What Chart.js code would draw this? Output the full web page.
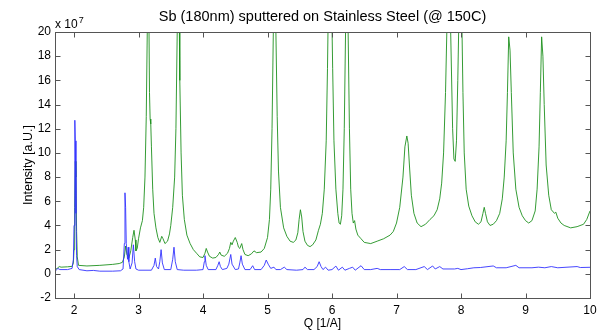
<!DOCTYPE html>
<html>
<head>
<meta charset="utf-8">
<script src="https://cdn.jsdelivr.net/npm/chart.js@4/dist/chart.umd.min.js"></script>
<style>
  body { margin: 0; background: #fff; }
  #wrap { width: 611px; height: 333px; }
</style>
</head>
<body>
<div id="wrap"><canvas id="xrd" width="611" height="333"></canvas></div>
<script>
// Sb film on stainless steel, intensity in units of 1e7
const greenQ = [1.705, 1.74, 1.77, 1.8, 1.9, 1.97, 1.99, 2.0, 2.01, 2.02, 2.03, 2.04, 2.05, 2.07, 2.2, 2.4, 2.6, 2.7, 2.75, 2.78,
  2.8, 2.82, 2.85, 2.88, 2.91, 2.93, 2.95, 2.96, 2.98, 3.0, 3.03, 3.06, 3.08, 3.1, 3.12, 3.14, 3.15, 3.16, 3.17, 3.18,
  3.19, 3.2, 3.22, 3.24, 3.27, 3.3, 3.33, 3.36, 3.38, 3.41, 3.45, 3.48, 3.5, 3.53, 3.56, 3.58, 3.6, 3.61, 3.63, 3.64,
  3.66, 3.68, 3.71, 3.75, 3.8, 3.85, 3.9, 3.95, 4.0, 4.03, 4.05, 4.07, 4.1, 4.15, 4.2, 4.24, 4.26, 4.28, 4.33, 4.38,
  4.41, 4.43, 4.45, 4.47, 4.5, 4.53, 4.55, 4.57, 4.6, 4.62, 4.65, 4.7, 4.75, 4.79, 4.83, 4.9, 4.95, 5.0, 5.03, 5.05,
  5.07, 5.09, 5.11, 5.13, 5.15, 5.17, 5.2, 5.25, 5.3, 5.35, 5.4, 5.44, 5.47, 5.49, 5.51, 5.53, 5.55, 5.58, 5.62, 5.66,
  5.7, 5.75, 5.79, 5.82, 5.85, 5.88, 5.91, 5.93, 5.95, 5.97, 5.99, 6.01, 6.03, 6.06, 6.09, 6.11, 6.13, 6.15, 6.17, 6.19,
  6.21, 6.23, 6.25, 6.27, 6.29, 6.31, 6.33, 6.35, 6.37, 6.4, 6.45, 6.5, 6.6, 6.7, 6.8, 6.9, 6.95, 7.0, 7.05, 7.1,
  7.13, 7.16, 7.18, 7.2, 7.23, 7.27, 7.32, 7.38, 7.45, 7.52, 7.58, 7.63, 7.67, 7.7, 7.73, 7.76, 7.78, 7.81, 7.84, 7.87,
  7.89, 7.91, 7.93, 7.95, 7.97, 7.99, 8.01, 8.03, 8.05, 8.08, 8.12, 8.17, 8.22, 8.27, 8.31, 8.34, 8.36, 8.38, 8.41, 8.45,
  8.5, 8.55, 8.6, 8.64, 8.67, 8.7, 8.72, 8.74, 8.76, 8.78, 8.81, 8.85, 8.9, 8.95, 9.0, 9.05, 9.1, 9.15, 9.18, 9.21,
  9.23, 9.25, 9.27, 9.29, 9.32, 9.36, 9.4, 9.45, 9.47, 9.5, 9.55, 9.6, 9.7, 9.8, 9.9, 9.95, 10.0];
const greenI = [0.35, 0.45, 0.6, 0.55, 0.58, 0.62, 0.9, 2.0, 5.5, 9.3, 8.0, 3.5, 1.4, 0.7, 0.65, 0.7, 0.78, 0.85, 0.95, 1.4,
  2.3, 1.6, 1.3, 1.9, 3.0, 3.6, 2.8, 1.9, 2.1, 2.9, 3.8, 4.4, 5.5, 8, 13, 22, 28, 22, 15, 12.8,
  12.4, 10.5, 7, 5, 3.8, 3.0, 2.6, 3.1, 2.9, 2.5, 2.7, 3.3, 4.0, 5.5, 8, 12, 20, 28, 22, 16,
  10, 6.5, 4.5, 3.2, 2.5, 2.0, 1.7, 1.4, 1.35, 1.7, 2.1, 1.8, 1.45, 1.3, 1.35, 1.6, 1.8, 1.55, 1.45, 1.7,
  2.1, 2.6, 2.4, 2.7, 3.0, 2.6, 2.2, 2.1, 2.5, 2.0, 1.6, 1.5, 1.65, 1.9, 1.75, 1.8, 2.1, 3.0, 4.5, 7,
  12, 20, 26, 20, 13, 8.5, 5.5, 3.8, 3.1, 2.7, 2.6, 2.8, 3.4, 4.5, 5.3, 4.7, 3.5, 2.7, 2.35, 2.25,
  2.4, 2.8, 3.6, 4.1, 5.0, 7, 11, 17, 25, 30, 24, 17, 11, 7, 5, 4.2, 4.1, 4.8, 7, 12,
  20, 28, 20, 12, 7, 5, 4.2, 4.4, 3.7, 3.2, 2.9, 2.6, 2.5, 2.7, 2.9, 3.2, 3.5, 4.2, 5.5, 8,
  10.5, 11.4, 10.8, 9, 6.5, 5, 4.2, 3.9, 4.1, 4.5, 4.8, 5.3, 6.2, 7.5, 10, 15, 20, 26, 20, 12,
  9.5, 9.3, 11, 16, 22, 28, 22, 15, 10, 7, 5.6, 4.8, 4.3, 4.1, 4.3, 5.0, 5.5, 5.0, 4.3, 4.0,
  4.1, 4.4, 5.0, 6.2, 8, 11, 15, 19.6, 18.5, 15, 10, 7, 5.5, 4.8, 4.4, 4.2, 4.4, 5.2, 7, 10.5,
  15, 19.6, 18, 14, 9, 6.5, 5.3, 5.0, 5.1, 4.6, 4.2, 4.0, 3.8, 3.9, 4.1, 4.5, 5.2];

const blueQ = [1.705, 1.73, 1.75, 1.78, 1.9, 1.97, 1.99, 2.0, 2.01, 2.015, 2.02, 2.03, 2.04, 2.05, 2.08, 2.2, 2.3, 2.4, 2.6, 2.72,
  2.76, 2.78, 2.79, 2.8, 2.81, 2.83, 2.84, 2.85, 2.87, 2.9, 2.92, 2.94, 2.96, 3.0, 3.2, 3.24, 3.26, 3.28, 3.31, 3.33,
  3.35, 3.37, 3.4, 3.5, 3.53, 3.55, 3.57, 3.6, 3.7, 3.9, 4.0, 4.02, 4.03, 4.05, 4.08, 4.2, 4.23, 4.25, 4.27, 4.3,
  4.37, 4.4, 4.43, 4.45, 4.5, 4.55, 4.57, 4.59, 4.61, 4.65, 4.73, 4.77, 4.8, 4.9, 4.95, 4.98, 5.01, 5.05, 5.1, 5.13,
  5.2, 5.26, 5.3, 5.45, 5.55, 5.58, 5.62, 5.72, 5.77, 5.8, 5.83, 5.86, 5.9, 5.94, 6.0, 6.06, 6.1, 6.16, 6.2, 6.27,
  6.32, 6.36, 6.45, 6.5, 6.6, 6.7, 6.75, 6.9, 7.05, 7.12, 7.17, 7.3, 7.43, 7.48, 7.56, 7.6, 7.67, 7.72, 7.9, 7.95,
  8.0, 8.1, 8.2, 8.3, 8.5, 8.55, 8.7, 8.85, 8.9, 9.1, 9.2, 9.3, 9.4, 9.5, 9.8, 9.85, 10.0];
const blueI = [0.2, 0.35, 0.45, 0.35, 0.35, 0.45, 1.2, 4, 10.4, 12.7, 11, 5, 1.5, 0.6, 0.35, 0.25, 0.28, 0.22, 0.22, 0.25,
  0.4, 2.5, 6.7, 5.5, 2.5, 1.2, 2.2, 1.0, 0.4, 0.9, 2.4, 1.0, 0.4, 0.3, 0.3, 0.7, 1.3, 0.6, 0.4, 1.0,
  2.0, 0.9, 0.35, 0.35, 1.2, 2.2, 1.0, 0.35, 0.3, 0.3, 0.35, 1.0, 1.5, 0.7, 0.35, 0.35, 0.7, 1.0, 0.6, 0.35,
  0.45, 0.8, 1.6, 0.8, 0.35, 0.4, 0.9, 1.5, 0.8, 0.35, 0.35, 0.67, 0.35, 0.35, 0.7, 1.14, 0.8, 0.45, 0.55, 0.35,
  0.35, 0.55, 0.35, 0.3, 0.35, 0.55, 0.35, 0.35, 0.6, 1.0, 0.6, 0.35, 0.55, 0.3, 0.35, 0.64, 0.3, 0.55, 0.3, 0.45,
  0.55, 0.3, 0.67, 0.35, 0.35, 0.45, 0.35, 0.35, 0.35, 0.6, 0.35, 0.35, 0.6, 0.35, 0.65, 0.4, 0.6, 0.4, 0.4, 0.45,
  0.35, 0.42, 0.5, 0.52, 0.65, 0.5, 0.5, 0.7, 0.5, 0.5, 0.55, 0.5, 0.6, 0.5, 0.6, 0.52, 0.54];

const xTicks = [2, 3, 4, 5, 6, 7, 8, 9, 10];
const yTicks = [-2, 0, 2, 4, 6, 8, 10, 12, 14, 16, 18, 20];

const FONT = 'Liberation Sans, Arial, Helvetica, sans-serif';
const AXIS = '#555';

function pts(qs, is) {
  return qs.map((q, i) => ({ x: q, y: is[i] }));
}

// matlab-like frame: box, inward ticks on all four sides, titles, exponent
const frame = {
  id: 'frame',
  afterDraw(chart) {
    const { ctx, chartArea: a, scales } = chart;
    const L = Math.round(a.left) + 0.5, R = Math.round(a.right) + 0.5;
    const T = Math.round(a.top) + 0.5, B = Math.round(a.bottom) + 0.5;
    ctx.save();
    ctx.strokeStyle = AXIS;
    ctx.lineWidth = 1;
    ctx.strokeRect(L, T, R - L, B - T);
    ctx.beginPath();
    xTicks.forEach(v => {
      const px = Math.round(scales.x.getPixelForValue(v)) + 0.5;
      ctx.moveTo(px, B); ctx.lineTo(px, B - 5);
      ctx.moveTo(px, T); ctx.lineTo(px, T + 5);
    });
    yTicks.forEach(v => {
      const py = Math.round(scales.y.getPixelForValue(v)) + 0.5;
      ctx.moveTo(L, py); ctx.lineTo(L + 5, py);
      ctx.moveTo(R, py); ctx.lineTo(R - 5, py);
    });
    ctx.stroke();

    ctx.fillStyle = '#000';
    ctx.textAlign = 'center';
    ctx.textBaseline = 'middle';
    ctx.font = '14.5px ' + FONT;
    ctx.fillText('Sb (180nm) sputtered on Stainless Steel (@ 150C)', (a.left + a.right) / 2, 17);
    ctx.font = '12px ' + FONT;
    ctx.fillText('Q [1/A]', (a.left + a.right) / 2, 324);

    ctx.save();
    ctx.translate(29, (a.top + a.bottom) / 2);
    ctx.rotate(-Math.PI / 2);
    ctx.font = '12.5px ' + FONT;
    ctx.fillText('Intensity [a.U.]', 0, 0);
    ctx.restore();

    ctx.textAlign = 'left';
    ctx.textBaseline = 'alphabetic';
    ctx.font = '12px ' + FONT;
    ctx.fillText('x 10', a.left, 28);
    const w = ctx.measureText('x 10').width;
    ctx.font = '9px ' + FONT;
    ctx.fillText('7', a.left + w + 1, 23);
    ctx.restore();
  }
};

new Chart(document.getElementById('xrd'), {
  type: 'line',
  data: {
    datasets: [
      { data: pts(blueQ, blueI), borderColor: 'rgb(50,50,255)', borderWidth: 0.9, pointRadius: 0, tension: 0 },
      { data: pts(greenQ, greenI), borderColor: 'rgb(30,145,30)', borderWidth: 0.9, pointRadius: 0, tension: 0 }
    ]
  },
  options: {
    responsive: false,
    animation: false,
    layout: { padding: { top: 32, right: 21, left: 0, bottom: 0 } },
    plugins: { legend: { display: false }, tooltip: { enabled: false } },
    scales: {
      x: {
        type: 'linear',
        min: 1.705,
        max: 10,
        afterFit(s) { s.height = 35; },
        afterBuildTicks(s) { s.ticks = xTicks.map(v => ({ value: v })); },
        grid: { display: false, drawTicks: false },
        border: { display: false },
        ticks: { padding: 5, color: '#000', font: { family: FONT, size: 12 }, maxRotation: 0 }
      },
      y: {
        min: -2,
        max: 20,
        afterFit(s) { s.width = 55; },
        afterBuildTicks(s) { s.ticks = yTicks.map(v => ({ value: v })); },
        grid: { display: false, drawTicks: false },
        border: { display: false },
        ticks: { padding: 4, color: '#000', font: { family: FONT, size: 12 } }
      }
    }
  },
  plugins: [frame]
});
</script>
</body>
</html>
